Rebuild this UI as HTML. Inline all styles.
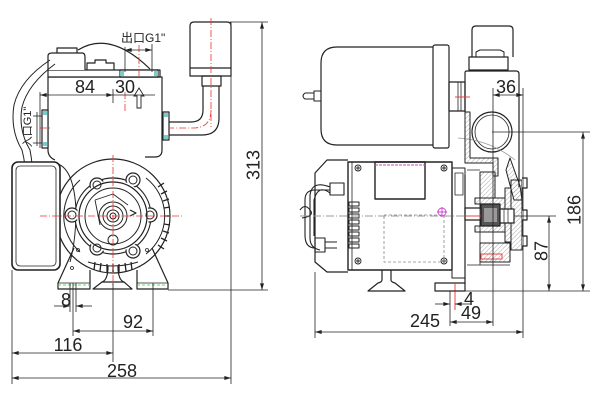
<!DOCTYPE html>
<html><head><meta charset="utf-8"><style>
html,body{margin:0;padding:0;background:#fff;}
svg{display:block}
text{font-family:"Liberation Sans","Noto Sans CJK SC",sans-serif;fill:#222}
</style></head><body>
<svg width="600" height="402" viewBox="0 0 600 402" xmlns="http://www.w3.org/2000/svg">
<defs>
<marker id="a" viewBox="0 0 10 6" refX="10" refY="3" markerWidth="8" markerHeight="4" orient="auto-start-reverse" markerUnits="userSpaceOnUse"><path d="M0,0L10,3L0,6z" fill="#222"/></marker>
<pattern id="h" width="3.2" height="3.2" patternUnits="userSpaceOnUse" patternTransform="rotate(45)"><line x1="0" y1="0" x2="0" y2="3.2" stroke="#777" stroke-width="0.6"/></pattern>
</defs>

<!-- ================= LEFT VIEW ================= -->
<g fill="none" stroke="#222" stroke-width="1.2" stroke-linejoin="round">
  <!-- pressure switch cap -->
  <path d="M190,76 V26 Q190,22 194,22 H227 Q231,22 231,26 V76 Z" fill="#fff"/>
  <line x1="190" y1="68" x2="231" y2="68"/>
  <rect x="202" y="76" width="19" height="10"/>
  <!-- pipe -->
  <path d="M203,86 V110 Q203,122 191,122 H169"/>
  <path d="M219,86 V118 Q219,135 202,135 H169"/>
  <rect x="163" y="112" width="6" height="28" fill="#fff"/>
  <!-- main box -->
  <path d="M48,77 H162 V150 Q162,157 155,157 H145 M48,77 V150 Q48,157 55,160"/>
  <rect x="48" y="70" width="112" height="7" fill="#fff"/>
  <!-- dome -->
  <path d="M78,50 Q110,30 150,69"/>
  <!-- junction box -->
  <path d="M48,70 V56 Q48,53 52,53 H57 V48 H77 V53 H82 Q85,53 85,57 V70" fill="#fff"/>
  <line x1="57" y1="53" x2="77" y2="53"/>
  <path d="M87,70 V63 H95 V60 H106 V63 H114 V70"/>
  <rect x="120" y="70" width="38" height="7" fill="#fff"/>
  <!-- inlet flange -->
  <rect x="42" y="110" width="6" height="38" fill="#fff"/>
  <!-- cable -->
  <path d="M50,60 Q20,80 14,105 Q10,130 22,150 Q26,165 26,185" stroke-width="1"/>
  <path d="M55,64 Q28,84 22,107 Q18,130 30,150 Q33,165 33,185" stroke-width="1"/>
  <circle cx="42" cy="182" r="6" stroke-width="1"/>
  <circle cx="42" cy="182" r="3" stroke-width="1"/>
  <!-- housing circle -->
  <circle cx="113" cy="216" r="57"/>
  <path d="M146,178 A48,48 0 0 1 146,254" stroke-width="1"/>
  <path d="M80,180 A48,48 0 0 0 80,252" stroke-width="1"/>
  <!-- end cap -->
  <rect x="12" y="162" width="48" height="108" rx="6" fill="#fff" stroke-width="1.6"/>
  <rect x="16" y="166" width="40" height="100" rx="4" stroke-width="0.8"/>
  <path d="M58,164 Q74,170 76,210 Q76,240 70,262" stroke-width="1"/>
  <!-- flange -->
  <circle cx="113" cy="216" r="38" fill="#fff"/>
  <g fill="#fff">
    <circle cx="97" cy="185" r="7"/><circle cx="133" cy="180" r="7"/>
    <circle cx="72" cy="215" r="7"/><circle cx="150" cy="215" r="7"/>
    <circle cx="97" cy="248" r="7"/><circle cx="133" cy="251" r="7"/>
  </g>
  <circle cx="113" cy="216" r="36" stroke="none" fill="#fff"/>
  <circle cx="113" cy="216" r="34"/>
  <circle cx="113" cy="216" r="28" stroke-width="1"/>
  <g stroke-width="1">
    <circle cx="97" cy="185" r="4"/><circle cx="133" cy="180" r="4"/>
    <circle cx="72" cy="215" r="4"/><circle cx="150" cy="215" r="4"/>
    <circle cx="97" cy="248" r="4"/><circle cx="133" cy="251" r="4"/>
  </g>
  <path d="M95,200 L113,194 L128,205 M95,200 L100,225" stroke-width="0.9"/>
  <circle cx="113" cy="216" r="14" stroke-width="1"/>
  <circle cx="113" cy="216" r="10" stroke-width="1"/>
  <circle cx="113" cy="216" r="6" stroke-width="1"/>
  <circle cx="113" cy="216" r="3" stroke-width="1"/>
  <circle cx="113" cy="240" r="5" stroke-width="1"/>
  <path d="M130,210 l6,3 l-6,3" stroke-width="1.2"/>
  <!-- slats -->
  <g stroke-width="1.3">
    <line x1="161" y1="194" x2="167" y2="191"/><line x1="163" y1="201" x2="169" y2="199"/>
    <line x1="164" y1="208" x2="170" y2="207"/><line x1="164" y1="216" x2="170" y2="216"/>
    <line x1="164" y1="224" x2="170" y2="225"/><line x1="163" y1="231" x2="169" y2="233"/>
    <line x1="161" y1="238" x2="167" y2="241"/><line x1="158" y1="245" x2="164" y2="249"/>
    <line x1="158" y1="187" x2="164" y2="183"/>
    <line x1="95" y1="262" x2="94" y2="270"/><line x1="101" y1="263" x2="100" y2="271"/>
    <line x1="107" y1="264" x2="107" y2="272"/><line x1="113" y1="264" x2="113" y2="272"/>
    <line x1="119" y1="264" x2="119" y2="272"/><line x1="125" y1="263" x2="126" y2="271"/>
    <line x1="131" y1="262" x2="132" y2="270"/>
  </g>
  <path d="M88,262 Q113,270 138,262" stroke-width="1"/>
  <!-- legs -->
  <path d="M74,248 L58,283 V289 H90 V270"/>
  <path d="M152,248 L168,283 V289 H137 V270"/>
  <line x1="58" y1="283" x2="90" y2="283" stroke-width="0.7"/>
  <line x1="137" y1="283" x2="168" y2="283" stroke-width="0.7"/>
  <circle cx="72" cy="268" r="1.5" stroke-width="0.8"/>
  <circle cx="78" cy="250" r="1.5" stroke-width="0.8"/>
  <circle cx="147" cy="250" r="1.5" stroke-width="0.8"/>
  <!-- center foot -->
  <path d="M108,266 Q108,280 102,282 H124 Q118,280 118,266"/>
  <path d="M102,282 L93,289 H132 L124,282"/>
</g>

<!-- left red centerlines -->
<g stroke="#e33" stroke-width="0.8" stroke-dasharray="7,2,1,2" fill="none">
  <line x1="40" y1="216" x2="184" y2="216"/>
  <line x1="113" y1="155" x2="113" y2="285"/>
  <line x1="211" y1="18" x2="211" y2="127"/>
  <path d="M211,110 Q211,128 193,128 H170"/>
  <line x1="40" y1="128" x2="52" y2="128"/>
  <line x1="125" y1="92" x2="125" y2="112"/>
  <line x1="139" y1="45" x2="139" y2="76"/>
</g>
<g stroke="#3c3" stroke-width="0.8" stroke-dasharray="3,2">
  <line x1="58" y1="285" x2="90" y2="285"/>
  <line x1="137" y1="285" x2="168" y2="285"/>
</g>
<g fill="#7cc" stroke="none">
  <rect x="120" y="71" width="4" height="5"/><rect x="154" y="71" width="4" height="5"/>
  <rect x="43" y="111" width="4" height="4"/><rect x="43" y="142" width="4" height="4"/>
  <rect x="164" y="113" width="4" height="4"/><rect x="164" y="135" width="4" height="4"/>
</g>

<!-- left dimensions -->
<g stroke="#222" stroke-width="0.8" fill="none">
  <line x1="12" y1="270" x2="12" y2="384"/>
  <line x1="231" y1="22" x2="231" y2="384"/>
  <line x1="12" y1="378" x2="231" y2="378" marker-start="url(#a)" marker-end="url(#a)"/>
  <line x1="113" y1="283" x2="113" y2="362"/>
  <line x1="12" y1="353" x2="113" y2="353" marker-start="url(#a)" marker-end="url(#a)"/>
  <line x1="73" y1="283" x2="73" y2="336"/>
  <line x1="153" y1="283" x2="153" y2="336"/>
  <line x1="73" y1="331" x2="153" y2="331" marker-start="url(#a)" marker-end="url(#a)"/>
  <line x1="70" y1="283" x2="70" y2="312"/>
  <line x1="76" y1="283" x2="76" y2="312"/>
  <line x1="54" y1="306" x2="70" y2="306" marker-end="url(#a)"/>
  <line x1="92" y1="306" x2="76" y2="306" marker-end="url(#a)"/>
  <line x1="230" y1="22" x2="268" y2="22"/>
  <line x1="168" y1="290" x2="268" y2="290"/>
  <line x1="262" y1="22" x2="262" y2="290" marker-start="url(#a)" marker-end="url(#a)"/>
  <line x1="40" y1="92" x2="40" y2="148"/>
  <line x1="40" y1="95" x2="113" y2="95" marker-start="url(#a)" marker-end="url(#a)"/>
  <line x1="113" y1="95" x2="155" y2="95"/>
  <line x1="113" y1="89" x2="113" y2="103"/>
  <path d="M139,88 L134,96 H137 V108 H141 V96 H144 Z" stroke-width="0.9"/>
  <line x1="125" y1="47" x2="125" y2="72"/>
  <line x1="152" y1="44" x2="152" y2="72"/>
  <line x1="125" y1="50" x2="152" y2="50" marker-start="url(#a)" marker-end="url(#a)"/>
  <line x1="37" y1="112" x2="37" y2="146"/>
  <line x1="33" y1="116" x2="42" y2="116"/>
  <line x1="33" y1="143" x2="42" y2="143"/>
</g>
<g font-size="18" text-anchor="middle">
  <text x="85" y="93">84</text>
  <text x="125" y="93">30</text>
  <text x="66" y="306">8</text>
  <text x="133" y="328">92</text>
  <text x="68" y="351">116</text>
  <text x="122" y="377">258</text>
  <text transform="translate(253,165) rotate(-90)" dy="6.5">313</text>
</g>
<text x="121" y="42" font-size="12">出口G1"</text>
<text transform="translate(27,127) rotate(-90)" font-size="11" text-anchor="middle" dy="4">入口G1"</text>

<!-- ================= RIGHT VIEW ================= -->
<g fill="none" stroke="#222" stroke-width="1.2" stroke-linejoin="round">
  <!-- tank -->
  <path d="M433,47 H337 Q321,47 321,63 V129 Q321,145 337,145 H433"/>
  <rect x="433" y="45" width="16" height="103" rx="2" fill="#fff"/>
  <rect x="449" y="82" width="16" height="29"/>
  <line x1="458" y1="82" x2="458" y2="111" stroke-width="0.8"/>
  <line x1="461" y1="82" x2="461" y2="111" stroke-width="0.8"/>
  <path d="M321,91 H314 V101 H321 M314,93 H305 Q301,96 305,99 H314" stroke-width="1"/>
  <!-- pressure switch -->
  <path d="M472,57 V30 Q472,26 476,26 H509 Q513,26 513,30 V57"/>
  <path d="M469,57 H508 V70 H469 Z"/>
  <path d="M476,57 V52 L480,50 H500 L504,52 V57" stroke-width="1"/>
  <path d="M465,112 V73 Q465,71 467,71 H516 Q519,71 519,74 V187"/>
  <circle cx="492" cy="132" r="20"/>
  <circle cx="492" cy="132" r="17" stroke-width="0.8"/>
  <path d="M458,138 Q490,140 515,160" stroke="#999" stroke-width="0.8"/>
  <!-- hatched pump head -->
  <g fill="url(#h)" stroke-width="1">
    <path d="M465,112 V163 H493 V176 H498 V158 H470 V112 Z"/>
    <path d="M510,158 L520,186 L522,200 L514,200 L506,170 Z"/>
    <path d="M475,198 H505 V232 H475 V226 H480 V204 H475 Z"/>
    <path d="M505,188 H511 V242 H505 Z"/>
    <path d="M511,180 H522 V250 H511 Z"/>
    <path d="M480,243 H510 V262 H480 Z"/>
    <path d="M480,172 H495 V198 H480 Z"/>
  </g>
  <rect x="481" y="204" width="19" height="22" fill="#555" stroke="#222"/>
  <rect x="484" y="208" width="13" height="14" fill="#999" stroke="none"/>
  <rect x="500" y="209" width="14" height="14" fill="#fff"/>
  <line x1="504" y1="209" x2="504" y2="223" stroke-width="0.7"/>
  <line x1="508" y1="209" x2="508" y2="223" stroke-width="0.7"/>
  <rect x="465" y="208" width="16" height="12" fill="#fff"/>
  <path d="M522,178 h5 v10 h-5 M522,210 h5 v10 h-5 M522,236 h5 v10 h-5" fill="#fff"/>
  <line x1="480" y1="172" x2="480" y2="265" stroke-width="0.8"/>
  <path d="M467,170 H480 M467,265 H510" stroke-width="0.8"/>
  <!-- motor -->
  <path d="M348,160 H327 L315,173 V262 L327,272 H348"/>
  <rect x="348" y="162" width="104" height="108" fill="#fff" stroke-width="1.4"/>
  <line x1="352" y1="162" x2="352" y2="270" stroke-width="0.8"/>
  <rect x="375" y="162" width="50" height="37" stroke-width="1.4"/>
  <g stroke-width="1">
    <rect x="349" y="202" width="10" height="4"/><rect x="349" y="208" width="10" height="4"/>
    <rect x="349" y="214" width="10" height="4"/><rect x="349" y="220" width="10" height="4"/>
    <rect x="349" y="226" width="10" height="4"/><rect x="349" y="232" width="10" height="4"/>
    <rect x="349" y="238" width="10" height="4"/><rect x="349" y="244" width="10" height="4"/>
  </g>
  <g stroke-width="0.9">
    <circle cx="358" cy="168" r="3"/><path d="M356,168h4M358,166v4"/>
    <circle cx="444" cy="168" r="3"/><path d="M442,168h4M444,166v4"/>
    <circle cx="358" cy="261" r="3"/><path d="M356,261h4M358,259v4"/>
    <circle cx="444" cy="261" r="3"/><path d="M442,261h4M444,259v4"/>
  </g>
  <rect x="384" y="215" width="60" height="47" stroke="#888" stroke-width="0.8" stroke-dasharray="3,2"/>
  <rect x="452" y="168" width="13" height="110" stroke-width="1"/>
  <rect x="455" y="173" width="8" height="22" stroke-width="0.8"/>
  <line x1="465" y1="175" x2="465" y2="283"/>
  <!-- motor foot -->
  <path d="M382,270 V280 Q382,282 378,283 L368,291 H405 L395,283 Q391,282 391,280 V270"/>
  <rect x="435" y="283" width="30" height="8"/>
  <!-- cable -->
  <g stroke-width="1.1">
    <path d="M330,190 H315 Q305,190 305,200 V235 Q305,248 315,248"/>
    <path d="M330,187 Q312,180 310,195 V238 Q310,248 320,250"/>
    <path d="M330,193 Q318,184 314,200 V236"/>
    <rect x="330" y="183" width="14" height="12" fill="#fff"/>
    <path d="M315,238 h10 v14 h-10 z M325,242 h12 M325,248 h12"/>
    <path d="M300,210 Q305,203 310,210 Q315,216 302,218"/>
  </g>
</g>
<g fill="none" stroke-width="0.9">
  <line x1="300" y1="216" x2="465" y2="216" stroke="#999" stroke-dasharray="8,2,1,2"/>
  <line x1="465" y1="216" x2="481" y2="216" stroke="#e33"/>
  <line x1="455" y1="97" x2="470" y2="97" stroke="#e33"/>
  <line x1="375" y1="165" x2="425" y2="165" stroke="#c4c" stroke-dasharray="3,1"/>
  <circle cx="442" cy="212" r="4" stroke="#c4c"/>
  <path d="M437,212h10M442,207v10" stroke="#c4c"/>
  <rect x="481" y="254" width="21" height="5" stroke="#e33"/>
  <line x1="455" y1="283" x2="455" y2="310" stroke="#e33"/>
</g>

<!-- right dimensions -->
<g stroke="#222" stroke-width="0.8" fill="none">
  <line x1="493" y1="88" x2="493" y2="326"/>
  <line x1="523" y1="88" x2="523" y2="338"/>
  <line x1="493" y1="95" x2="523" y2="95" marker-start="url(#a)" marker-end="url(#a)"/>
  <line x1="519" y1="95" x2="519" y2="108"/>
  <line x1="492" y1="132" x2="590" y2="132"/>
  <line x1="435" y1="291" x2="590" y2="291"/>
  <line x1="583" y1="132" x2="583" y2="291" marker-start="url(#a)" marker-end="url(#a)"/>
  <line x1="514" y1="216" x2="556" y2="216"/>
  <line x1="549" y1="216" x2="549" y2="291" marker-start="url(#a)" marker-end="url(#a)"/>
  <line x1="315" y1="272" x2="315" y2="338"/>
  <line x1="315" y1="332" x2="523" y2="332" marker-start="url(#a)" marker-end="url(#a)"/>
  <line x1="450" y1="291" x2="450" y2="326"/>
  <line x1="450" y1="322" x2="493" y2="322" marker-start="url(#a)" marker-end="url(#a)"/>
  <line x1="435" y1="304" x2="450" y2="304" marker-end="url(#a)"/>
  <line x1="470" y1="304" x2="455" y2="304" marker-end="url(#a)"/>
</g>
<g font-size="18" text-anchor="middle">
  <text x="506" y="93">36</text>
  <text x="469" y="305">4</text>
  <text x="471" y="319">49</text>
  <text x="425" y="327">245</text>
  <text transform="translate(574,210) rotate(-90)" dy="6.5">186</text>
  <text transform="translate(541,251) rotate(-90)" dy="6.5">87</text>
</g>
</svg>
</body></html>
